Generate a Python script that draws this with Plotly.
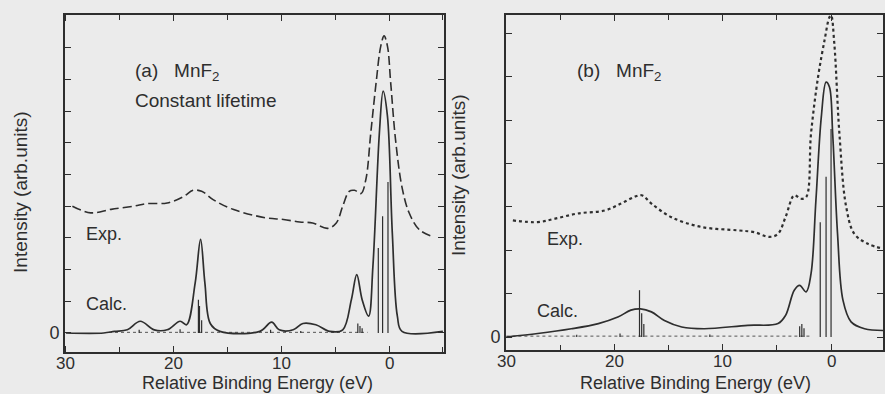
import plotly.graph_objects as go

# ---------------- data (panel a) ----------------
a_exp_x = [29.4, 27.7, 25.8, 23.7, 22.5, 20.6, 19.1, 18.2, 17.4, 16.3, 14.5, 11.4, 9.8, 8.3, 7.1, 5.7, 4.9, 4.3,
           3.7, 3.2, 2.6, 2.15, 1.7, 1.2, 0.77, 0.46, 0.15, -0.15, -0.6, -1.2, -1.85, -2.8, -4.0]
a_exp_y = [4.0, 3.79, 3.9, 4.0, 4.08, 4.1, 4.3, 4.5, 4.47, 4.2, 3.9, 3.63, 3.58, 3.5, 3.47, 3.3, 3.47, 4.0,
           4.47, 4.5, 4.4, 4.85, 6.3, 7.9, 9.05, 9.37, 9.05, 7.9, 6.1, 4.6, 3.8, 3.26, 3.05]
a_calc_x = [30.0, 26.5, 25.5, 24.3, 23.1, 21.8, 20.6, 19.4, 18.8, 18.0, 17.5, 17.1, 16.6, 15.7, 12.0, 10.9, 10.2,
            8.9, 8.0, 6.8, 5.5, 4.3, 3.5, 3.0, 2.5, 1.9, 1.5, 0.9, 0.55, 0.15, -0.3, -0.77, -1.2, -5.0]
a_calc_y = [0.0, 0.0, 0.05, 0.1, 0.37, 0.1, 0.1, 0.37, 0.26, 1.58, 2.95, 1.58, 0.3, 0.05, 0.05, 0.34, 0.1,
            0.1, 0.3, 0.26, 0.05, 0.1, 1.05, 1.84, 1.05, 0.53, 2.1, 6.3, 7.63, 6.84, 3.16, 0.53, 0.05, 0.05]
a_stick_x = [1.0, 0.6, 0.1, 17.7, 17.6, 17.4, 2.9, 2.7, 2.5, 23.2, 19.4, 11.0, 8.2]
a_stick_y = [2.68, 3.68, 4.76, 1.05, 0.85, 0.4, 0.3, 0.22, 0.15, 0.1, 0.12, 0.1, 0.06]

# ---------------- data (panel b) ----------------
b_exp_x = [29.4, 27.1, 25.5, 23.4, 20.9, 19.4, 18.2, 17.5, 16.6, 14.8, 12.0, 8.6, 7.1, 5.7, 4.9, 4.2, 3.4,
           2.8, 2.3, 1.85, 1.2, 0.6, 0.15, 0.0, -0.3, -0.77, -1.4, -2.15, -3.4, -4.8]
b_exp_y = [2.69, 2.65, 2.73, 2.85, 2.92, 3.08, 3.23, 3.27, 3.08, 2.77, 2.54, 2.46, 2.42, 2.31, 2.38, 2.77, 3.27,
           3.19, 3.23, 4.7, 6.0, 6.85, 7.38, 7.42, 6.77, 4.7, 3.0, 2.38, 2.15, 2.04]
b_calc_x = [30.0, 27.1, 24.0, 21.5, 19.7, 18.5, 17.6, 16.6, 15.4, 13.8, 11.7, 7.7, 4.9, 4.2, 3.4, 2.9, 2.3,
            1.85, 1.4, 0.9, 0.46, 0.15, -0.15, -0.6, -1.1, -1.85, -3.1, -4.8]
b_calc_y = [0.0, 0.08, 0.19, 0.31, 0.46, 0.62, 0.65, 0.58, 0.38, 0.23, 0.19, 0.27, 0.31, 0.5, 1.08, 1.19, 1.04,
            1.46, 3.15, 5.08, 5.88, 5.77, 4.69, 2.38, 0.85, 0.35, 0.19, 0.15]
b_stick_x = [1.0, 0.46, 0.0, 17.7, 17.5, 17.3, 2.9, 2.7, 2.5, 19.5, 11.2, 23.5]
b_stick_y = [2.65, 3.7, 4.8, 1.08, 0.55, 0.3, 0.25, 0.3, 0.2, 0.08, 0.06, 0.05]

x_tickvals = [30, 20, 10, 0]
x_ticktext = ["30", "20", "10", "0"]
y_tickvals = [0]
y_ticktext = ["0"]

INK = "#2e2e2e"
BG = "#ebebeb"
FONT = "Liberation Sans, Arial, sans-serif"


def sticks(xs, ys):
    sx, sy = [], []
    for x, y in zip(xs, ys):
        sx += [x, x, None]
        sy += [0, y, None]
    return sx, sy


fig = go.Figure()

# panel a
fig.add_trace(go.Scatter(x=a_exp_x, y=a_exp_y, mode="lines", xaxis="x", yaxis="y",
                         line=dict(color=INK, width=1.6, dash="9px,4px"), line_shape="spline"))
fig.add_trace(go.Scatter(x=a_calc_x, y=a_calc_y, mode="lines", xaxis="x", yaxis="y",
                         line=dict(color=INK, width=1.7), line_shape="spline"))
sx, sy = sticks(a_stick_x, a_stick_y)
fig.add_trace(go.Scatter(x=sx, y=sy, mode="lines", xaxis="x", yaxis="y",
                         line=dict(color=INK, width=1.2)))
fig.add_trace(go.Scatter(x=[26, 2], y=[0.02, 0.02], mode="lines", xaxis="x", yaxis="y",
                         line=dict(color=INK, width=0.8, dash="3px,3px")))

# panel b
fig.add_trace(go.Scatter(x=b_exp_x, y=b_exp_y, mode="lines", xaxis="x2", yaxis="y2",
                         line=dict(color=INK, width=2.2, dash="dot"), line_shape="spline"))
fig.add_trace(go.Scatter(x=b_calc_x, y=b_calc_y, mode="lines", xaxis="x2", yaxis="y2",
                         line=dict(color=INK, width=1.7), line_shape="spline"))
sx, sy = sticks(b_stick_x, b_stick_y)
fig.add_trace(go.Scatter(x=sx, y=sy, mode="lines", xaxis="x2", yaxis="y2",
                         line=dict(color=INK, width=1.2)))
fig.add_trace(go.Scatter(x=[30, 2], y=[0.02, 0.02], mode="lines", xaxis="x2", yaxis="y2",
                         line=dict(color=INK, width=0.8, dash="3px,3px")))

xcommon = dict(tickvals=x_tickvals, showticklabels=False, ticks="inside", ticklen=6, tickwidth=1.2,
               tickcolor=INK, showline=True, linecolor=INK, linewidth=1.6, mirror="allticks",
               showgrid=False, zeroline=False,
               minor=dict(tickvals=[25, 15, 5, -5], ticks="inside", ticklen=5, tickcolor=INK))
ycommon = dict(tickvals=y_tickvals, ticktext=y_ticktext, ticks="inside", ticklen=6, tickwidth=1.2,
               tickcolor=INK, showline=True, linecolor=INK, linewidth=1.6, mirror="allticks",
               showgrid=False, zeroline=False, tickfont=dict(family=FONT, size=18, color=INK),
               minor=dict(dtick=1, tick0=0, ticks="inside", ticklen=6, tickcolor=INK))

fig.update_layout(
    width=885, height=394, margin=dict(l=0, r=0, t=0, b=0),
    paper_bgcolor=BG, plot_bgcolor=BG, showlegend=False,
    font=dict(family=FONT, color=INK),
    xaxis=dict(domain=[65 / 885, 445 / 885], range=[30.1, -5.1], anchor="y", **xcommon),
    yaxis=dict(domain=[1 - 352 / 394, 1 - 15 / 394], range=[-0.6, 10.03], anchor="x", **ycommon),
    xaxis2=dict(domain=[507 / 885, 1.0], range=[30.05, -4.8], anchor="y2", **xcommon),
    yaxis2=dict(domain=[1 - 350 / 394, 1 - 15 / 394], range=[-0.3, 7.43], anchor="x2", **ycommon),
)

# x tick labels (placed tight under the axis, as in the scan)
for xref, ytop in [("x", 353), ("x2", 351)]:
    for v, t in zip(x_tickvals, x_ticktext):
        fig.add_annotation(text=t, x=v, xref=xref, y=1 - ytop / 394, yref="paper", showarrow=False,
                           xanchor="center", yanchor="top", borderpad=0,
                           font=dict(family=FONT, size=17, color=INK))

ann = [
    dict(text="(a)   MnF<sub>2</sub>", x=133, y=72, s=19),
    dict(text="Constant lifetime", x=133, y=100, s=19),
    dict(text="Exp.", x=84, y=234, s=18),
    dict(text="Calc.", x=84, y=304, s=18),
    dict(text="(b)   MnF<sub>2</sub>", x=576, y=72, s=19),
    dict(text="Exp.", x=546, y=239, s=18),
    dict(text="Calc.", x=536, y=311, s=18),
]
for a in ann:
    fig.add_annotation(text=a["text"], x=a["x"] / 885, y=1 - a["y"] / 394, xref="paper", yref="paper",
                       xanchor="left", yanchor="middle", showarrow=False,
                       font=dict(family=FONT, size=a["s"], color=INK))

for xc, yc in [(20, 192), (460, 175)]:
    fig.add_annotation(text="Intensity (arb.units)", x=xc / 885, y=1 - yc / 394, xref="paper", yref="paper",
                       textangle=-90, showarrow=False, xanchor="center", yanchor="middle",
                       font=dict(family=FONT, size=19, color=INK))
for xc in [258, 697]:
    fig.add_annotation(text="Relative Binding Energy (eV)", x=xc / 885, y=0, xref="paper",
                       yref="paper", showarrow=False, xanchor="center", yanchor="bottom", borderpad=0,
                       font=dict(family=FONT, size=18, color=INK))

fig.write_html("out.html")
